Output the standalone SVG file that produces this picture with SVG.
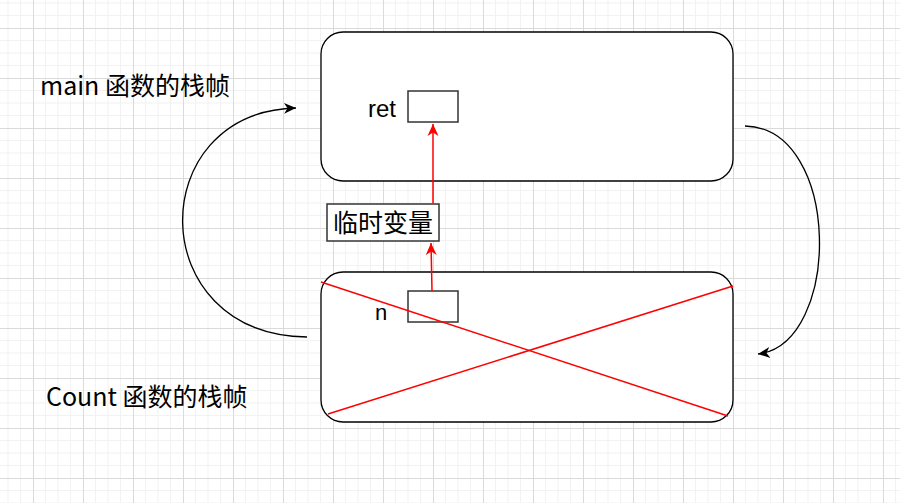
<svg xmlns="http://www.w3.org/2000/svg" width="900" height="503" viewBox="0 0 900 503">
  <style>
    .frame { fill: #ffffff; stroke: #000000; stroke-width: 1.3; }
    .cell { fill: #ffffff; stroke: #333333; stroke-width: 1.5; }
    .red { stroke: #ff0000; stroke-width: 1.5; fill: none; }
    .curve { stroke: #000000; stroke-width: 1.3; fill: none; }
    .cjk { font-family: "Noto Sans CJK SC", "Noto Sans", sans-serif; font-size: 25px; fill: #000000; }
    .lat { font-family: "Liberation Sans", Arial, sans-serif; fill: #000000; }
  </style>
  <defs>
    <pattern id="grid" patternUnits="userSpaceOnUse" x="33" y="28" width="50" height="50">
      <rect width="50" height="50" fill="#ffffff"/>
      <path d="M12.5 0V50M25 0V50M37.5 0V50M0 12.5H50M0 25H50M0 37.5H50" stroke="#f2f2f2" stroke-width="1"/>
      <path d="M0.5 0V50M0 0.5H50" stroke="#dadada" stroke-width="1"/>
    </pattern>
    <marker id="blk" markerUnits="userSpaceOnUse" markerWidth="14" markerHeight="12" refX="12" refY="6" orient="auto">
      <path d="M0 0.5L12 6L0 11.5L3.5 6Z" fill="#000000"/>
    </marker>
    <marker id="redArr" markerUnits="userSpaceOnUse" markerWidth="14" markerHeight="12" refX="12" refY="6" orient="auto">
      <path d="M0 0.5L12 6L0 11.5L3.5 6Z" fill="#ff0000"/>
    </marker>
  </defs>
  <rect x="0" y="0" width="900" height="503" fill="url(#grid)"/>

  <g id="main-frame">
    <rect class="frame" x="321" y="32" width="412" height="149" rx="22" ry="22"/>
    <text class="lat" x="368" y="117" font-size="24">ret</text>
    <rect class="cell" x="408" y="91" width="50" height="31"/>
  </g>

  <g id="count-frame">
    <rect class="frame" x="321" y="272" width="412" height="150" rx="22" ry="22"/>
    <text class="lat" x="375" y="320" font-size="22">n</text>
    <rect class="cell" x="408" y="291" width="50" height="31"/>
  </g>

  <g id="temp">
    <rect class="cell" x="327" y="204" width="112" height="37"/>
    <text class="cjk" x="383" y="232" text-anchor="middle" font-size="24">临时变量</text>
  </g>

  <g id="label-main">
    <text class="cjk" x="40" y="95">main 函数的栈帧</text>
  </g>
  <g id="label-count">
    <text class="cjk" x="46" y="406">Count 函数的栈帧</text>
  </g>

  <g id="connectors">
    <path class="red" d="M433 203V124" marker-end="url(#redArr)"/>
    <path class="red" d="M432 291L431 243" marker-end="url(#redArr)"/>
    <path class="curve" d="M307 337C143 335 143 112 296 108" marker-end="url(#blk)"/>
    <path class="curve" d="M745 126C842 128 842 344 758 354" marker-end="url(#blk)"/>
  </g>

  <g id="cross">
    <line class="red" x1="321" y1="282" x2="728" y2="416"/>
    <line class="red" x1="328" y1="414" x2="733" y2="286"/>
  </g>
</svg>
